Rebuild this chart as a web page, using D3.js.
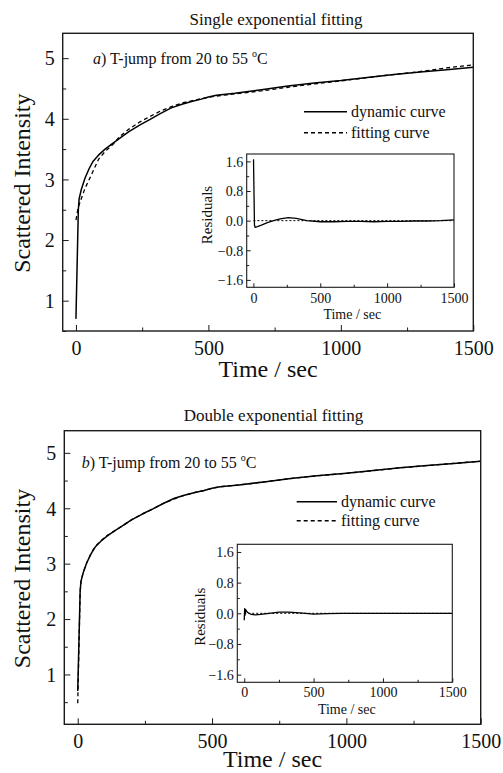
<!DOCTYPE html>
<html>
<head>
<meta charset="utf-8">
<script src="https://cdn.jsdelivr.net/npm/d3@7"></script>
<style>
  html, body { margin: 0; padding: 0; background: #fff; }
  svg { display: block; }
  text { font-family: "Liberation Serif", "Times New Roman", Times, "DejaVu Serif", serif; fill: #111; }
</style>
</head>
<body>
<svg id="chart" width="503" height="773"></svg>
<script>
// ---------------- data ----------------
const time = [0, 9, 12, 20, 34, 50, 65, 85, 110, 140, 166, 200, 242, 280, 320, 360, 400, 440, 470, 500, 530, 600, 700, 800, 900, 1000, 1100, 1200, 1300, 1400, 1500];
const dynamicCurve = [0.70, 2.50, 2.68, 2.83, 3.02, 3.18, 3.30, 3.40, 3.50, 3.60, 3.68, 3.79, 3.90, 3.99, 4.09, 4.18, 4.24, 4.29, 4.32, 4.36, 4.39, 4.42, 4.48, 4.54, 4.59, 4.63, 4.68, 4.73, 4.77, 4.81, 4.85];
const fitSingle = [2.33, 2.55, 2.58, 2.68, 2.85, 3.00, 3.14, 3.33, 3.46, 3.58, 3.71, 3.83, 3.95, 4.04, 4.13, 4.20, 4.26, 4.30, 4.33, 4.355, 4.375, 4.41, 4.46, 4.52, 4.575, 4.625, 4.68, 4.73, 4.78, 4.84, 4.89];
const fitDouble = [0.48, 2.49, 2.67, 2.84, 3.02, 3.19, 3.31, 3.41, 3.51, 3.60, 3.68, 3.79, 3.90, 3.99, 4.09, 4.17, 4.24, 4.29, 4.32, 4.36, 4.39, 4.42, 4.48, 4.54, 4.59, 4.63, 4.68, 4.73, 4.77, 4.81, 4.85];

const residTimeA = [0, 1, 8, 13, 30, 60, 100, 150, 200, 262, 320, 400, 500, 600, 700, 800, 900, 1000, 1100, 1200, 1300, 1400, 1500];
const residA = [1.65, 1.65, -0.12, -0.18, -0.16, -0.12, -0.06, 0.0, 0.05, 0.08, 0.06, 0.0, -0.03, -0.03, -0.02, -0.02, -0.03, -0.02, -0.02, -0.01, -0.01, 0.0, 0.02];
const residTimeB = [0, 3, 6, 10, 15, 25, 50, 80, 120, 180, 250, 320, 400, 500, 600, 700, 800, 900, 1000, 1200, 1500];
const residB = [-0.18, 0.12, -0.05, 0.10, 0.06, 0.02, -0.03, -0.04, -0.03, 0.0, 0.03, 0.03, 0.01, -0.02, -0.01, 0.0, 0.0, 0.0, 0.0, 0.0, 0.0];

const xTicksMajor = [0, 500, 1000, 1500];
const xTicksMinor = [250, 750, 1250];
const yTicksMajor = [1, 2, 3, 4, 5];
const yTicksMinor = [0.5, 1.5, 2.5, 3.5, 4.5];
const rTicksMajor = [-1.6, -0.8, 0.0, 0.8, 1.6];
const rTicksMinor = [-1.2, -0.4, 0.4, 1.2];

const titles = ["Single exponential fitting", "Double exponential fitting"];
const panelLetters = ["a", "b"];
const annotationText = ") T-jump from 20 to 55 ";
const legendLabels = ["dynamic curve", "fitting curve"];
const xLabel = "Time / sec";
const yLabel = "Scattered Intensity";
const rLabel = "Residuals";

// ---------------- drawing ----------------
const FONT = '"Liberation Serif", "Times New Roman", Times, "DejaVu Serif", serif';
const svg = d3.select("#chart");
const INK = "#1a1a1a";
let clipId = 0;

function addClip(f) {
  const id = "clip" + (clipId++);
  svg.append("clipPath").attr("id", id)
    .append("rect").attr("x", f.x0).attr("y", f.y0).attr("width", f.x1 - f.x0).attr("height", f.y1 - f.y0);
  return id;
}

function styleAxis(g, size) {
  g.attr("font-family", null).attr("font-size", null);
  g.select(".domain").remove();
  g.selectAll(".tick line").attr("stroke", INK).attr("stroke-width", 1);
  g.selectAll("text").style("font-size", size + "px").style("font-family", FONT).attr("fill", INK);
}

function drawFrame(f, sw) {
  svg.append("rect").attr("x", f.x0).attr("y", f.y0).attr("width", f.x1 - f.x0).attr("height", f.y1 - f.y0)
    .attr("fill", "none").attr("stroke", INK).attr("stroke-width", sw);
}

function drawAxes(f, x, y, o) {
  const gx = svg.append("g").attr("transform", `translate(0,${f.y1})`)
    .call(d3.axisBottom(x).tickValues(xTicksMajor).tickSize(-o.major).tickFormat(d3.format("d")));
  styleAxis(gx, o.tickFont);
  gx.selectAll("text").attr("y", o.xLabelOff).attr("dy", null);
  const gxm = svg.append("g").attr("transform", `translate(0,${f.y1})`)
    .call(d3.axisBottom(x).tickValues(xTicksMinor).tickSize(-o.minor).tickFormat(""));
  styleAxis(gxm, o.tickFont);
  const gy = svg.append("g").attr("transform", `translate(${f.x0},0)`)
    .call(d3.axisLeft(y).tickValues(o.yMajor).tickSize(-o.major).tickFormat(o.yFormat));
  styleAxis(gy, o.tickFont);
  gy.selectAll("text").attr("x", -o.yLabelOff).attr("dy", "0.34em");
  const gym = svg.append("g").attr("transform", `translate(${f.x0},0)`)
    .call(d3.axisLeft(y).tickValues(o.yMinor).tickSize(-o.minor).tickFormat(""));
  styleAxis(gym, o.tickFont);
}

function drawLine(xs, ys, x, y, clip, dash, sw) {
  const pts = xs.map((t, i) => [t, ys[i]]);
  svg.append("path").datum(pts)
    .attr("clip-path", `url(#${clip})`)
    .attr("fill", "none").attr("stroke", "#000").attr("stroke-width", sw)
    .attr("stroke-linejoin", "round")
    .attr("stroke-dasharray", dash || null)
    .attr("d", d3.line().x(d => x(d[0])).y(d => y(d[1])));
}

function drawPanel(p, idx) {
  const f = p.frame;
  const x = d3.scaleLinear().domain([-50, 1500]).range([f.x0, f.x1]);
  const y = d3.scaleLinear().domain(p.yDomain).range([f.y1, f.y0]);
  const clip = addClip(f);

  svg.append("text").attr("x", p.titleX).attr("y", p.titleY).attr("text-anchor", "middle")
    .style("font-size", "17px").text(titles[idx]);

  drawAxes(f, x, y, { major: 6, minor: 3.5, tickFont: 20, xLabelOff: 24, yLabelOff: 8,
    yMajor: yTicksMajor, yMinor: yTicksMinor, yFormat: d3.format("d") });

  drawLine(time, p.fit, x, y, clip, "4,3", 1.3);
  drawLine(time, dynamicCurve, x, y, clip, null, 1.5);

  drawFrame(f, 1.4);

  svg.append("text").attr("x", (f.x0 + f.x1) / 2).attr("y", p.xLabelY).attr("text-anchor", "middle")
    .style("font-size", "24px").text(xLabel);
  svg.append("text").attr("transform", `translate(30,${(f.y0 + f.y1) / 2 + 1}) rotate(-90)`)
    .attr("text-anchor", "middle").style("font-size", "24px").text(yLabel);

  const ann = svg.append("text").attr("x", p.annX).attr("y", p.annY).style("font-size", "16px");
  ann.append("tspan").style("font-style", "italic").text(panelLetters[idx]);
  ann.append("tspan").text(annotationText);
  ann.append("tspan").attr("dy", -7).style("font-size", "10px").text("o");
  ann.append("tspan").attr("dy", 7).text("C");

  const lg = p.legend;
  legendLabels.forEach((lab, i) => {
    const yy = lg.y + i * lg.gap;
    svg.append("line").attr("x1", lg.x1).attr("x2", lg.x2).attr("y1", yy).attr("y2", yy)
      .attr("stroke", "#000").attr("stroke-width", 1.4).attr("stroke-dasharray", i === 1 ? "4,3" : null);
    svg.append("text").attr("x", lg.x2 + 4).attr("y", yy + 5).style("font-size", "16px").text(lab);
  });

  const q = p.inset;
  const fi = q.frame;
  const xi = d3.scaleLinear().domain([-50, 1500]).range([fi.x0, fi.x1]);
  const yi = d3.scaleLinear().domain([-1.8, 1.8]).range([fi.y1, fi.y0]);
  const clipI = addClip(fi);
  svg.append("rect").attr("x", fi.x0).attr("y", fi.y0).attr("width", fi.x1 - fi.x0).attr("height", fi.y1 - fi.y0).attr("fill", "#fff");
  drawAxes(fi, xi, yi, { major: 4, minor: 2.5, tickFont: 14, xLabelOff: q.xLabelOff, yLabelOff: 3.5,
    yMajor: rTicksMajor, yMinor: rTicksMinor, yFormat: d3.format(".1f") });
  svg.append("line").attr("x1", xi(0)).attr("x2", xi(1500)).attr("y1", yi(0)).attr("y2", yi(0))
    .attr("stroke", "#000").attr("stroke-width", 1).attr("stroke-dasharray", "2,2");
  drawLine(q.t, q.r, xi, yi, clipI, null, 1.3);
  drawFrame(fi, 1.1);
  svg.append("text").attr("x", (fi.x0 + fi.x1) / 2 + 2).attr("y", fi.y1 + 31.5).attr("text-anchor", "middle")
    .style("font-size", "14px").text(xLabel);
  svg.append("text").attr("transform", `translate(${q.rLabelX},${q.rLabelY}) rotate(-90)`)
    .attr("text-anchor", "middle").style("font-size", "15px").text(rLabel);
}

const panels = [
  { frame: { x0: 62.7, x1: 473.3, y0: 33.3, y1: 331 }, yDomain: [0.5, 5.41], fit: fitSingle,
    titleX: 276, titleY: 24.5, annX: 93, annY: 64, xLabelY: 377,
    legend: { x1: 304, x2: 347, y: 111.7, gap: 21 },
    inset: { frame: { x0: 246.7, x1: 454, y0: 154, y1: 287.3 }, t: residTimeA, r: residA,
             xLabelOff: 16, rLabelX: 212, rLabelY: 215 } },
  { frame: { x0: 64.3, x1: 480.7, y0: 430.7, y1: 724.3 }, yDomain: [0.1, 5.40], fit: fitDouble,
    titleX: 273.5, titleY: 420.7, annX: 81.7, annY: 468, xLabelY: 767,
    legend: { x1: 296.7, x2: 337, y: 501.7, gap: 19 },
    inset: { frame: { x0: 237.3, x1: 452.3, y0: 544.3, y1: 682.3 }, t: residTimeB, r: residB,
             xLabelOff: 14.5, rLabelX: 204.5, rLabelY: 616.7 } }
];

panels.forEach((p, i) => drawPanel(p, i));
</script>
</body>
</html>
